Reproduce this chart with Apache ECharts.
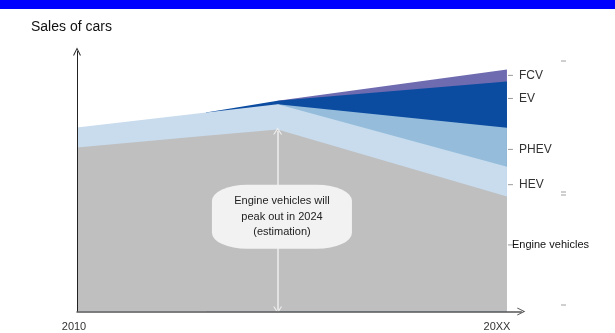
<!DOCTYPE html>
<html>
<head>
<meta charset="utf-8">
<script src="https://cdn.jsdelivr.net/npm/echarts@6/dist/echarts.min.js"></script>
<style>
  html, body { margin: 0; padding: 0; background: #fff; }
  #chart { width: 615px; height: 333px; }
</style>
</head>
<body>
<div id="chart"></div>
<script>
// ---- data (arbitrary units) ----
const years = [2010, 2019, 2024, 2040];
const engine = [61.8, 66.2, 68.6, 43.3];
const hev = [7.6, 8.8, 9.5, 11.3];
const phev = [0, 0, 0, 14.7];
const ev = [0, 0, 1.3, 17.4];
const fcv = [0, 0, 0, 4.5];
const seriesNames = ['Engine vehicles', 'HEV', 'PHEV', 'EV', 'FCV'];
const labelValues = [25.1, 47.8, 61.1, 80.3, 89.0];
const xTickValues = [2010, 2040];
const xTickLabels = ['2010', '20XX'];
const peakYear = 2024;
const titleText = 'Sales of cars';
const annotationText = 'Engine vehicles will\npeak out in 2024\n(estimation)';

// ---- styles ----
const colors = ['#bfbfbf', '#c8dcee', '#95bddb', '#0b4ba0', '#6e6bb0'];
const chevron = 'path://M0,10 L5,0 L10,10 L8.6,10 L5,2.6 L1.4,10 Z';
const FONT = 'Arial, "Liberation Sans", Helvetica, sans-serif';

// cumulative tops of the stacked bands (built from the arrays above)
const seriesData = [engine, hev, phev, ev, fcv];
const cumulative = [];
seriesData.forEach((vals, i) => {
  cumulative.push(vals.map((v, k) => v + (i > 0 ? cumulative[i - 1][k] : 0)));
});

// each band starts at the last zero point before it becomes positive
function firstIndex(vals) {
  let first = vals.findIndex(v => v > 0);
  if (first < 0) return vals.length;
  return Math.max(0, first - 1);
}

// each band is drawn as an area from zero to its cumulative top;
// upper bands are drawn first so lower ones paint over them.
const series = [];
for (let i = seriesData.length - 1; i >= 0; i--) {
  const start = i === 0 ? 0 : firstIndex(seriesData[i]);
  const pts = [];
  for (let k = start; k < years.length; k++) pts.push([years[k], cumulative[i][k]]);
  series.push({
    name: seriesNames[i],
    type: 'line',
    symbol: 'none',
    smooth: false,
    lineStyle: { width: 0 },
    areaStyle: { color: colors[i], opacity: 1 },
    itemStyle: { color: colors[i] },
    silent: true,
    data: pts
  });
}

const gray = series[series.length - 1];
const peakIdx = years.indexOf(peakYear);
gray.markLine = {
  silent: true,
  symbol: [chevron, chevron],
  symbolSize: [9, 7],
  lineStyle: { color: '#eeeeee', width: 1.5, type: 'solid' },
  label: { show: false },
  data: [[{ coord: [peakYear, 0.6] }, { coord: [peakYear, engine[peakIdx] - 0.6] }]]
};
gray.markPoint = {
  silent: true,
  symbol: 'roundRect',
  symbolSize: [140, 64],
  itemStyle: { color: '#f2f2f2' },
  label: {
    show: true, position: 'inside', formatter: annotationText,
    fontFamily: FONT, fontSize: 11, lineHeight: 15.5, color: '#222'
  },
  data: [{ coord: [peakYear + 0.3, 35.7] }]
};

const chart = echarts.init(document.getElementById('chart'), null, { renderer: 'canvas' });
chart.setOption({
  animation: false,
  backgroundColor: '#ffffff',
  title: {
    text: titleText, left: 31, top: 20, padding: 0,
    textStyle: { fontFamily: FONT, fontSize: 14, fontWeight: 'normal', color: '#111' }
  },
  grid: { left: 77, right: 93.7, top: 51.5, bottom: 21.5 },
  xAxis: {
    type: 'value', min: 2010, max: 2041, z: 10,
    splitLine: { show: false },
    axisTick: { show: false },
    axisLine: {
      show: true, onZero: false,
      lineStyle: { color: '#555', width: 1.5 },
      symbol: ['none', chevron], symbolSize: [12, 8]
    },
    axisLabel: {
      customValues: xTickValues,
      margin: 10,
      formatter: v => {
        const i = xTickValues.indexOf(v);
        return i === 0 ? '{a|' + xTickLabels[0] + '}' : '{b|' + xTickLabels[i] + '}';
      },
      rich: {
        a: { fontFamily: FONT, fontSize: 11, color: '#333', padding: [0, 6, 0, 0] },
        b: { fontFamily: FONT, fontSize: 11, color: '#333', padding: [0, 20, 0, 0] }
      }
    }
  },
  yAxis: {
    type: 'value', min: 0, max: 98, z: 10,
    splitLine: { show: false },
    axisTick: { show: false },
    axisLabel: { show: false },
    axisLine: {
      show: true,
      lineStyle: { color: '#222', width: 1 },
      symbol: ['none', chevron], symbolSize: [9, 8]
    }
  },
  series: series
});

// ---- right-side labels, placed from data values ----
const lastYear = years[years.length - 1];
const graphics = [
  { type: 'rect', left: 0, top: 0, shape: { x: 0, y: 0, width: 615, height: 9 }, style: { fill: '#0000ff' }, z: 100 }
];
seriesNames.forEach((name, i) => {
  const p = chart.convertToPixel({ gridIndex: 0 }, [lastYear, labelValues[i]]);
  const isEngine = i === 0;
  graphics.push({
    type: 'line', silent: true, z: 50,
    shape: { x1: p[0] + 1, y1: p[1], x2: p[0] + 6, y2: p[1] },
    style: { stroke: '#9a9a9a', lineWidth: 1 }
  });
  graphics.push({
    type: 'text', silent: true, z: 50,
    x: p[0] + (isEngine ? 5 : 12), y: p[1],
    style: {
      text: name, fontFamily: FONT,
      fontSize: isEngine ? 11 : 12,
      fill: isEngine ? '#111' : '#333',
      textVerticalAlign: 'middle', verticalAlign: 'middle'
    }
  });
});
// small stray marks at the right edge of the original slide
[61, 192, 195, 305].forEach(yy => {
  graphics.push({
    type: 'line', silent: true, z: 50,
    shape: { x1: 561, y1: yy, x2: 566, y2: yy },
    style: { stroke: '#a0a0a0', lineWidth: 1 }
  });
});
chart.setOption({ graphic: graphics });
</script>
</body>
</html>
